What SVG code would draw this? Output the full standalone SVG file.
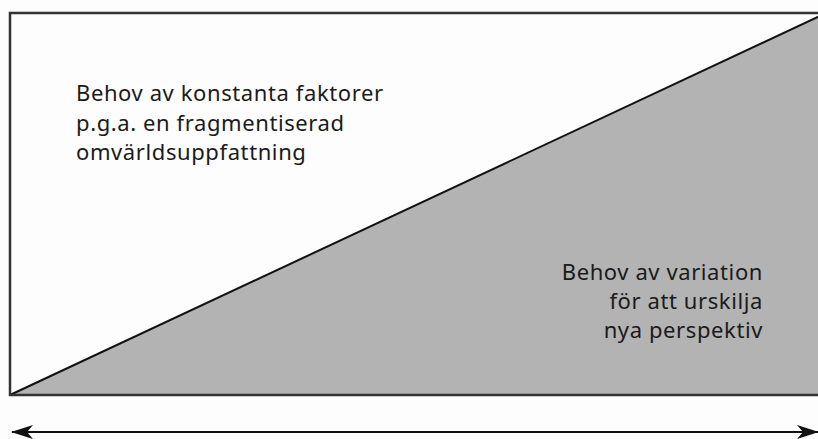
<svg xmlns="http://www.w3.org/2000/svg" width="818" height="439" viewBox="0 0 818 439">
<style>
  .t { font-family: "Noto Sans", "Liberation Sans", Arial, sans-serif; font-size: 22px; letter-spacing: 0.6px; fill: #1a1a1a; }
</style>
<defs>
  <marker id="ah" viewBox="0 0 22 14" refX="21" refY="7" markerWidth="22" markerHeight="14" markerUnits="userSpaceOnUse" orient="auto-start-reverse">
    <path d="M0,0 L22,7 L0,14 L6,7 Z" fill="#111"/>
  </marker>
</defs>
<rect width="818" height="439" fill="#fdfdfd"/>
<g id="field">
  <polygon points="10,395 820,16 820,395" fill="#b3b3b3"/>
  <line x1="10" y1="395" x2="820" y2="16" stroke="#111" stroke-width="2"/>
  <path d="M820,13 L10,13 L10,395 L820,395" fill="none" stroke="#333" stroke-width="2.5"/>
</g>
<g id="label-left">
  <text class="t" x="76" y="101">Behov av konstanta faktorer</text>
  <text class="t" x="76" y="131">p.g.a. en fragmentiserad</text>
  <text class="t" x="76" y="160">omvärldsuppfattning</text>
</g>
<g id="label-right" text-anchor="end">
  <text class="t" x="763" y="280">Behov av variation</text>
  <text class="t" x="763" y="309">för att urskilja</text>
  <text class="t" x="763" y="338">nya perspektiv</text>
</g>
<g id="connectors">
  <line x1="12" y1="432" x2="818" y2="432" stroke="#111" stroke-width="2" marker-start="url(#ah)" marker-end="url(#ah)"/>
</g>
</svg>
